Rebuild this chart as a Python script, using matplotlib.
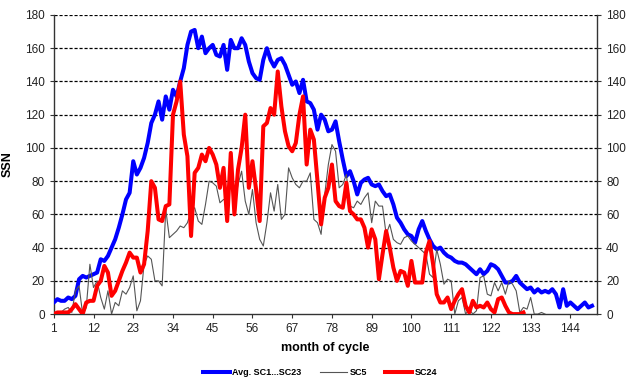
import matplotlib
matplotlib.use('Agg')
import matplotlib.pyplot as plt

plt.rcParams['font.family'] = ['Liberation Sans', 'DejaVu Sans']

# Average of cycles SC1...SC23, by month of cycle
avg_sc1_23 = [7, 9, 8, 8, 10, 9, 11, 21, 23, 22,
              23, 24, 25, 33, 32, 35, 40, 45, 52, 60,
              69, 73, 92, 84, 88, 94, 103, 115, 120, 128,
              117, 131, 123, 135, 131, 140, 148, 162, 170, 171,
              160, 167, 157, 160, 162, 156, 155, 162, 147, 165,
              160, 160, 166, 162, 152, 145, 142, 141, 153, 160,
              153, 149, 153, 154, 150, 144, 138, 140, 133, 141,
              128, 127, 123, 111, 120, 117, 110, 111, 116, 104,
              93, 83, 86, 80, 72, 79, 81, 82, 78, 77,
              78, 74, 71, 72, 66, 58, 55, 51, 48, 47,
              43, 51, 56, 50, 45, 41, 39, 40, 37, 35,
              34, 32, 31, 31, 30, 28, 26, 24, 27, 24,
              26, 30, 29, 27, 23, 19, 19, 20, 23, 19,
              17, 15, 16, 13, 15, 13, 14, 13, 15, 12,
              4, 15, 5, 7, 5, 3, 5, 7, 4, 5]

# Cycle 5
sc5 = [0, 0, 1, 3, 4, 1, 14, 17, 0, 4,
       30, 16, 20, 10, 3, 14, 0, 7, 5, 14,
       12, 16, 23, 2, 8, 30, 35, 33, 20, 20,
       17, 63, 46, 48, 50, 53, 52, 55, 62, 64,
       56, 54, 66, 80, 79, 77, 67, 69, 68, 86,
       65, 78, 86, 68, 60, 75, 55, 45, 41, 55,
       73, 62, 78, 57, 60, 88, 82, 78, 76, 80,
       80, 85, 57, 55, 48, 72, 90, 102, 98, 76,
       78, 84, 65, 64, 68, 66, 70, 73, 55, 68,
       65, 65, 48, 54, 45, 43, 42, 46, 47, 44,
       42, 40, 38, 36, 24, 22, 39, 30, 18, 21,
       20, 0, 8, 10, 0, 3, 0, 2, 22, 23,
       12, 11, 19, 14, 19, 12, 20, 18, 14, 1,
       4, 3, 10, 0, 0, 1, 0]

# Cycle 24
sc24 = [0, 1, 1, 1, 1, 3, 6, 3, 0, 7,
        8, 8, 17, 20, 29, 25, 11, 14, 20, 26,
        31, 37, 34, 34, 25, 30, 50, 80, 76, 57,
        56, 65, 66, 120, 128, 140, 108, 95, 47, 85,
        88, 96, 92, 100, 96, 90, 76, 88, 56, 97,
        60, 87, 100, 120, 76, 92, 75, 56, 113, 115,
        124, 120, 146, 125, 110, 101, 98, 103, 120, 131,
        90, 111, 105, 80, 54, 70, 76, 90, 68, 65,
        64, 79, 62, 60, 57, 57, 52, 40, 51, 45,
        21, 36, 50, 40, 28, 20, 26, 25, 17, 32,
        19, 19, 19, 37, 44, 30, 12, 7, 7, 10,
        3, 8, 12, 15, 5, 1, 8, 4, 5, 4,
        7, 3, 1, 9, 10, 5, 1, 0, 0, 0,
        1]

x_ticks = list(range(1, 145, 11))
y_ticks = list(range(0, 181, 20))


def main():
    fig = plt.figure(figsize=(6.4, 3.84), dpi=100)
    ax = fig.add_axes([0.084, 0.182, 0.849, 0.779])

    # grid lines
    for y in y_ticks[1:]:
        ax.axhline(y, color='black', linestyle=(0, (2.5, 1.5)), linewidth=0.9, zorder=1)

    ax.plot(range(1, len(avg_sc1_23) + 1), avg_sc1_23, color='#0000FF', linewidth=2.9,
            label='Avg. SC1...SC23', zorder=3, solid_joinstyle='round')
    ax.plot(range(1, len(sc5) + 1), sc5, color='#555555', linewidth=0.8,
            label='SC5', zorder=4)
    ax.plot(range(1, len(sc24) + 1), sc24, color='#FF0000', linewidth=2.9,
            label='SC24', zorder=5, solid_joinstyle='round')

    ax.set_xlim(1, 151.4)
    ax.set_ylim(0, 180)
    ax.set_xticks(x_ticks)
    ax.set_yticks(y_ticks)
    ax.tick_params(labelsize=8.5, length=3, color='#333333', labelcolor='#222222')
    ax.tick_params(axis='y', right=True, labelright=True, direction='out')

    for side in ['left', 'right', 'bottom']:
        ax.spines[side].set_color('#333333')
        ax.spines[side].set_linewidth(1.0)
    ax.spines['top'].set_visible(False)

    ax.set_ylabel('SSN', fontsize=9, fontweight='bold', labelpad=8)
    ax.set_xlabel('month of cycle', fontsize=9, fontweight='bold', labelpad=5)

    fig.legend(loc='center', bbox_to_anchor=(0.5, 0.03), ncol=3, frameon=False,
               prop={'size': 6.5, 'weight': 'bold'}, handlelength=3.0,
               columnspacing=2.0, handletextpad=0.3)

    fig.savefig('out.png', dpi=100)


if __name__ == '__main__':
    main()
